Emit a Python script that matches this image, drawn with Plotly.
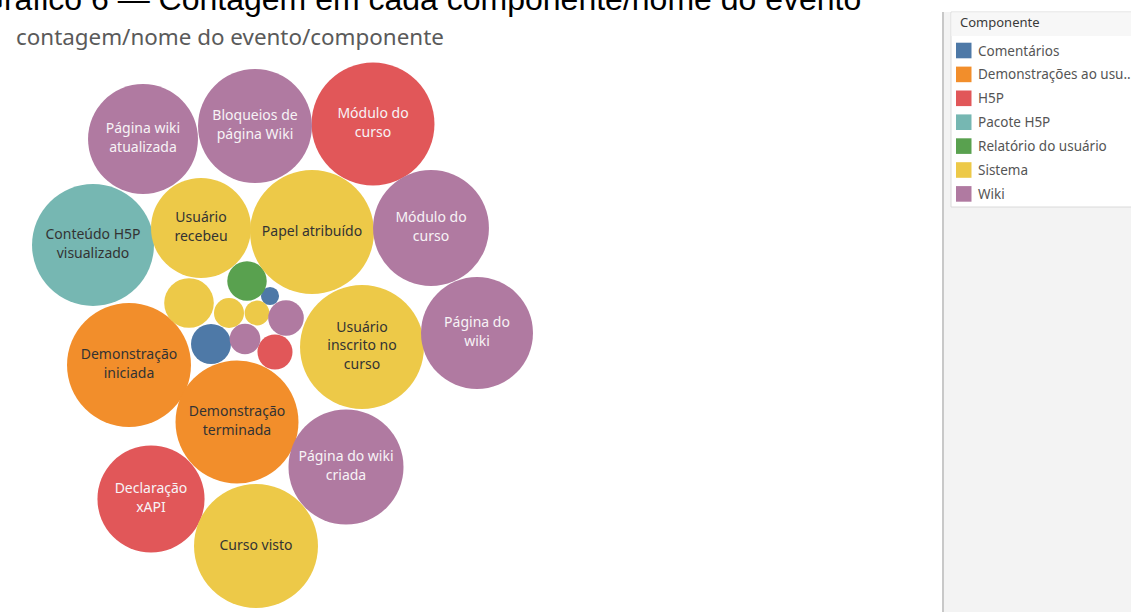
import plotly.graph_objects as go

# --- data -----------------------------------------------------------------
components = ["Comentários", "Demonstrações ao usuário", "H5P", "Pacote H5P",
              "Relatório do usuário", "Sistema", "Wiki"]
legend_labels = ["Comentários", "Demonstrações ao usu..", "H5P", "Pacote H5P",
                 "Relatório do usuário", "Sistema", "Wiki"]

event_labels = [
    "Página wiki<br>atualizada",
    "Bloqueios de<br>página Wiki",
    "Módulo do<br>curso",
    "Conteúdo H5P<br>visualizado",
    "Usuário<br>recebeu",
    "Papel atribuído",
    "Módulo do<br>curso",
    "Página do<br>wiki",
    "Usuário<br>inscrito no<br>curso",
    "Demonstração<br>iniciada",
    "Demonstração<br>terminada",
    "Página do wiki<br>criada",
    "Declaração<br>xAPI",
    "Curso visto",
    "", "", "", "", "", "", "", "", "",
]
event_names = [
    "Página wiki atualizada", "Bloqueios de página Wiki", "Módulo do curso",
    "Conteúdo H5P visualizado", "Usuário recebeu", "Papel atribuído",
    "Módulo do curso", "Página do wiki", "Usuário inscrito no curso",
    "Demonstração iniciada", "Demonstração terminada", "Página do wiki criada",
    "Declaração xAPI", "Curso visto",
    "Relatório do usuário visualizado", "Comentário excluído",
    "Usuário desinscrito do curso", "Papel desatribuído", "Perfil do usuário atualizado",
    "Comentários wiki visualizados", "Comentário criado", "Página wiki excluída",
    "Relatório visualizado",
]
event_component = [
    "Wiki", "Wiki", "H5P", "Pacote H5P", "Sistema", "Sistema", "Wiki", "Wiki",
    "Sistema", "Demonstrações ao usuário", "Demonstrações ao usuário", "Wiki",
    "H5P", "Sistema",
    "Relatório do usuário", "Comentários", "Sistema", "Sistema", "Sistema",
    "Wiki", "Comentários", "Wiki", "H5P",
]
counts = [295, 317, 369, 363, 244, 375, 328, 306, 375, 375, 369, 323, 280, 375,
          38, 8, 60, 22, 15, 31, 39, 23, 30]

# --- packed-bubble layout (centre of each bubble, in pixels) --------------
pack_x = [143, 255, 373, 93, 201, 312, 431, 477, 362, 129, 237, 346, 151, 256,
          247, 270, 189, 229, 257, 286, 211, 245, 275]
pack_y = [139, 126, 124, 245, 228, 232, 228, 333, 347, 365, 422, 467, 499, 546,
          281, 296, 303, 313, 313, 318, 344, 339, 352]

# --- styles ---------------------------------------------------------------
palette = {
    "Comentários": "#4E79A7",
    "Demonstrações ao usuário": "#F28E2B",
    "H5P": "#E15759",
    "Pacote H5P": "#76B7B2",
    "Relatório do usuário": "#59A14F",
    "Sistema": "#EDC948",
    "Wiki": "#B07AA1",
}
light_text = {"H5P", "Wiki"}
W, H = 1131, 612
RADIUS_K = 3.2          # bubble radius in px per sqrt(count)
FONT = "Noto Sans"

fig = go.Figure()

for comp in components:
    idx = [i for i, c in enumerate(event_component) if c == comp]
    fig.add_trace(go.Scatter(
        x=[pack_x[i] for i in idx],
        y=[pack_y[i] for i in idx],
        mode="markers+text",
        marker=dict(
            size=[2 * RADIUS_K * counts[i] ** 0.5 for i in idx],
            sizemode="diameter", sizeref=1,
            color=palette[comp], opacity=1, line=dict(width=0),
        ),
        text=[event_labels[i] for i in idx],
        textposition="middle center",
        textfont=dict(family=FONT, size=14,
                      color="#F7F3F6" if comp in light_text else "#333333"),
        customdata=[[event_names[i], counts[i]] for i in idx],
        hovertemplate="Componente: " + comp +
                      "<br>Nome do evento: %{customdata[0]}"
                      "<br>Contagem: %{customdata[1]}<extra></extra>",
        name=comp,
        showlegend=False,
    ))

shapes = [
    # side panel
    dict(type="rect", x0=944, x1=W, y0=12, y1=H, fillcolor="#F3F3F3",
         line=dict(width=0), layer="below"),
    dict(type="line", x0=943, x1=943, y0=12, y1=H,
         line=dict(color="#C8C8C8", width=2), layer="below"),
    # legend card
    dict(type="rect", x0=951, x1=W + 2, y0=12, y1=207, fillcolor="#FFFFFF",
         line=dict(color="#DADADA", width=1), layer="below"),
    dict(type="rect", x0=951.5, x1=W, y0=12.5, y1=36, fillcolor="#F7F7F7",
         line=dict(width=0), layer="below"),
]

annotations = [
    dict(text="Gráfico 6 — Contagem em cada componente/nome do evento",
         xref="paper", yref="paper", x=-23 / W, y=1 + 1 / H,
         xanchor="left", yanchor="middle", showarrow=False,
         font=dict(family="Liberation Sans", size=32, color="#000000")),
    dict(text="contagem/nome do evento/componente",
         xref="paper", yref="paper", x=14 / W, y=1 - 36 / H,
         xanchor="left", yanchor="middle", showarrow=False,
         font=dict(family=FONT, size=22.4, color="#5A5A5A")),
    dict(text="Componente", xref="x", yref="y", x=958, y=22,
         xanchor="left", yanchor="middle", showarrow=False,
         font=dict(family=FONT, size=13, color="#3A3A3A")),
]

row0, row_step = 50.5, 23.9
for k, comp in enumerate(components):
    yc = row0 + k * row_step
    shapes.append(dict(type="rect", x0=956, x1=971.5, y0=yc - 7.8, y1=yc + 7.8,
                       fillcolor=palette[comp], line=dict(width=0)))
    annotations.append(dict(text=legend_labels[k], xref="x", yref="y",
                            x=976, y=yc, xanchor="left", yanchor="middle",
                            showarrow=False,
                            font=dict(family=FONT, size=13.5, color="#555555")))

fig.update_layout(
    width=W, height=H,
    margin=dict(l=0, r=0, t=0, b=0, pad=0),
    paper_bgcolor="#FFFFFF", plot_bgcolor="#FFFFFF",
    xaxis=dict(range=[0, W], visible=False, fixedrange=True),
    yaxis=dict(range=[H, 0], visible=False, fixedrange=True),
    shapes=shapes, annotations=annotations,
    hovermode="closest",
)

fig.write_html("out.html")
